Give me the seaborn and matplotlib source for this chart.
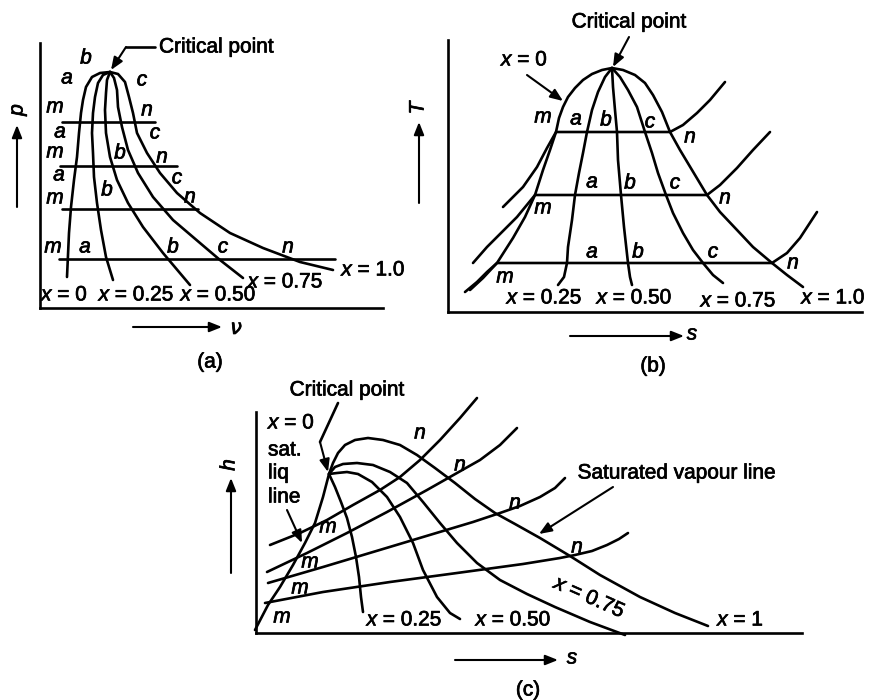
import matplotlib
matplotlib.use("Agg")
import pandas as pd
import matplotlib.pyplot as plt
import matplotlib.patheffects as pe
import seaborn as sns

# --- DATA (image pixel units) ---
# (a) p-v diagram: lines of constant dryness x
pv_x00 = [(110, 72), (100, 73), (92, 77), (86, 87), (83, 100), (81, 113), (79, 133),
          (77, 157), (74, 180), (71, 207), (69, 233), (67, 277)]
pv_x25 = [(110, 72), (103, 75), (98, 83), (95, 97), (93, 113), (92, 133), (93, 153),
          (94, 177), (97, 203), (101, 230), (106, 257), (113, 280)]
pv_x50 = [(110, 72), (107, 80), (106, 93), (105, 110), (106, 133), (110, 157), (117, 180),
          (128, 203), (143, 227), (163, 253), (190, 285)]
pv_x75 = [(110, 72), (114, 78), (117, 90), (118, 107), (122, 127), (128, 150), (138, 173),
          (153, 197), (173, 220), (200, 243), (220, 260), (243, 278)]
pv_x100 = [(110, 72), (118, 74), (125, 82), (129, 97), (133, 113), (137, 133), (147, 153),
           (160, 173), (177, 193), (200, 213), (230, 233), (263, 248), (300, 262), (333, 270)]
# isobars in (a): level and start / end of each line
pv_p_level = [122, 166, 209, 259]
pv_p_start = [62, 60, 62, 59]
pv_p_end = [155, 177, 198, 335]

# (b) T-s diagram
ts_x00 = [(612, 68), (602, 70), (592, 74), (583, 80), (575, 88), (568, 97), (563, 107),
          (559, 118), (556, 132), (550, 150), (543, 170), (535, 195), (525, 217),
          (513, 238), (497, 263), (483, 278), (470, 290)]
ts_x25 = [(612, 68), (605, 77), (598, 92), (592, 110), (587, 132), (583, 153), (579, 173),
          (575, 195), (572, 220), (568, 247), (567, 263), (564, 277), (558, 285)]
ts_x50 = [(612, 68), (613, 87), (615, 110), (617, 132), (618, 160), (621, 195), (624, 227),
          (628, 263), (630, 277), (632, 285)]
ts_x75 = [(612, 68), (620, 77), (628, 90), (637, 107), (645, 132), (652, 153), (658, 173),
          (666, 195), (673, 213), (683, 233), (693, 250), (703, 263), (713, 275), (723, 283)]
ts_x100 = [(612, 68), (623, 70), (635, 75), (645, 83), (653, 95), (662, 112), (670, 132),
           (680, 150), (692, 170), (707, 195), (720, 212), (737, 230), (753, 247),
           (772, 263), (787, 275), (803, 287)]
ts_p1 = [(503, 207), (523, 187), (537, 167), (547, 148), (556, 132), (670, 132),
         (683, 125), (697, 113), (710, 100), (725, 82)]
ts_p2 = [(473, 263), (487, 247), (503, 231), (517, 217), (535, 195), (707, 195),
         (720, 185), (737, 168), (753, 150), (770, 132)]
ts_p3 = [(465, 292), (477, 282), (487, 272), (497, 263), (772, 263), (787, 253),
         (800, 238), (817, 212)]

# (c) h-s diagram
hs_x00 = [(255, 630), (268, 605), (280, 587), (293, 565), (305, 543), (315, 523),
          (323, 497), (329, 474)]
hs_x25 = [(329, 474), (335, 487), (341, 502), (347, 518), (352, 537), (356, 557),
          (359, 577), (361, 597), (363, 612)]
hs_x50 = [(329, 474), (337, 473), (347, 472), (358, 474), (372, 482), (387, 497),
          (400, 517), (413, 543), (423, 570), (437, 597), (450, 613), (460, 619)]
hs_x75 = [(329, 474), (335, 467), (343, 464), (357, 463), (373, 465), (390, 472),
          (407, 483), (423, 502), (440, 523), (457, 543), (477, 563), (500, 580),
          (527, 594), (555, 607), (590, 622), (625, 635)]
hs_x100 = [(329, 474), (333, 463), (338, 453), (345, 445), (355, 440), (368, 438),
           (383, 440), (400, 445), (417, 455), (435, 468), (455, 483), (475, 499),
           (495, 513), (515, 524), (540, 538), (570, 556), (600, 575), (640, 597),
           (675, 613), (708, 626)]
hs_p1 = [(270, 545), (300, 533), (327, 520), (353, 505), (380, 490), (400, 477),
         (420, 460), (440, 440), (460, 418), (477, 398)]
hs_p2 = [(267, 572), (307, 553), (347, 533), (387, 512), (427, 490), (457, 473),
         (480, 460), (500, 445), (517, 428)]
hs_p3 = [(268, 583), (323, 567), (373, 552), (423, 537), (473, 522), (500, 513),
         (520, 506), (540, 497), (555, 488), (565, 478)]
hs_p4 = [(265, 603), (323, 592), (390, 582), (457, 573), (523, 564), (560, 558),
         (575, 555), (592, 551), (607, 545), (619, 539), (628, 533)]

# point labels (letter, x, y)
pv_marks = [('b', 86, 58), ('a', 67, 78), ('c', 142, 80), ('m', 55, 107), ('n', 147, 110),
            ('a', 60, 132), ('c', 155, 133), ('m', 55, 152), ('b', 120, 153), ('n', 162, 157),
            ('a', 59, 175), ('c', 177, 178), ('b', 107, 190), ('m', 55, 198), ('n', 190, 197),
            ('m', 53, 247), ('a', 85, 247), ('b', 173, 247), ('c', 223, 247), ('n', 288, 247)]
ts_marks = [('m', 543, 117), ('a', 576, 119), ('b', 606, 120), ('c', 650, 122), ('n', 690, 137),
            ('a', 592, 182), ('b', 630, 183), ('c', 675, 183), ('n', 725, 198), ('m', 543, 208),
            ('a', 592, 252), ('b', 638, 252), ('c', 713, 252), ('n', 793, 263), ('m', 505, 277)]
hs_marks = [('m', 328, 527), ('m', 310, 562), ('m', 300, 588), ('m', 282, 617),
            ('n', 420, 433), ('n', 460, 465), ('n', 515, 503), ('n', 577, 547)]

# --- FIGURE ---
sns.set_style("white")
plt.rcParams['font.family'] = ['Liberation Sans', 'DejaVu Sans']
plt.rcParams['mathtext.fontset'] = 'custom'
plt.rcParams['mathtext.it'] = 'Liberation Sans:italic'
plt.rcParams['mathtext.rm'] = 'Liberation Sans'

W, H = 872, 700
fig = plt.figure(figsize=(W / 100, H / 100), dpi=100)
LW = 1.9
FS = 15
INK = [pe.withStroke(linewidth=0.5, foreground='black')]


def panel(x0, y0, x1, y1):
    ax = fig.add_axes([x0 / W, 1 - y1 / H, (x1 - x0) / W, (y1 - y0) / H])
    ax.patch.set_alpha(0)
    return ax


def curve(ax, pts):
    d = pd.DataFrame(pts, columns=['s', 'v'])
    sns.lineplot(data=d, x='s', y='v', sort=False, estimator=None, color='black',
                 lw=LW, ax=ax, clip_on=False, solid_joinstyle='round', solid_capstyle='round')


def arrow(ax, start, tip, size=15):
    ax.annotate('', xy=tip, xytext=start, annotation_clip=False,
                arrowprops=dict(arrowstyle='-|>,head_length=0.5,head_width=0.2', color='black',
                                lw=1.5, mutation_scale=size, shrinkA=0, shrinkB=0))


def label(ax, x, y, s, ha='center', **kw):
    kw.setdefault('fontsize', FS)
    ax.text(x, y, s, ha=ha, va='center', color='black', clip_on=False,
            path_effects=INK, **kw)


def finish(ax, x0, y0, x1, y1):
    ax.set_xlim(x0, x1)
    ax.set_ylim(y1, y0)
    ax.set(xlabel='', ylabel='', xticks=[], yticks=[])
    for side in ['top', 'right']:
        ax.spines[side].set_visible(False)
    for side in ['left', 'bottom']:
        ax.spines[side].set_color('black')
        ax.spines[side].set_linewidth(LW)


# --- 1. (a) p-v ---
box_a = (40, 43, 383, 308)
ax_a = panel(*box_a)
for c in [pv_x00, pv_x25, pv_x50, pv_x75, pv_x100]:
    curve(ax_a, c)
for yv, v0, v1 in zip(pv_p_level, pv_p_start, pv_p_end):
    curve(ax_a, [(v0, yv), (v1, yv)])
for t, x, y in pv_marks:
    label(ax_a, x, y, t, style='italic')
label(ax_a, 65, 295, '$x$ = 0')
label(ax_a, 137, 295, '$x$ = 0.25')
label(ax_a, 219, 295, '$x$ = 0.50')
label(ax_a, 286, 282, '$x$ = 0.75')
label(ax_a, 374, 270, '$x$ = 1.0')
label(ax_a, 159, 47, 'Critical point', ha='left')
curve(ax_a, [(155, 47), (126, 47)])
arrow(ax_a, (126, 47), (111, 70))
arrow(ax_a, (17, 207), (17, 125))
label(ax_a, 17, 110, 'p', style='italic', rotation=90)
arrow(ax_a, (133, 327), (222, 327))
label(ax_a, 236, 328, 'ν', style='italic', family=['DejaVu Sans'])
label(ax_a, 210, 362, '(a)')
finish(ax_a, *box_a)

# --- 2. (b) T-s ---
box_b = (448, 40, 862, 312)
ax_b = panel(*box_b)
for c in [ts_x00, ts_x25, ts_x50, ts_x75, ts_x100, ts_p1, ts_p2, ts_p3]:
    curve(ax_b, c)
for t, x, y in ts_marks:
    label(ax_b, x, y, t, style='italic')
label(ax_b, 545, 298, '$x$ = 0.25')
label(ax_b, 635, 298, '$x$ = 0.50')
label(ax_b, 739, 301, '$x$ = 0.75')
label(ax_b, 834, 298, '$x$ = 1.0')
label(ax_b, 629, 22, 'Critical point')
arrow(ax_b, (629, 37), (613, 67))
label(ax_b, 525, 60, '$x$ = 0')
arrow(ax_b, (527, 75), (563, 101))
arrow(ax_b, (419, 203), (419, 122))
label(ax_b, 418, 108, 'T', style='italic', rotation=90)
arrow(ax_b, (570, 336), (684, 336))
label(ax_b, 692, 334, 's', style='italic')
label(ax_b, 653, 366, '(b)')
finish(ax_b, *box_b)

# --- 3. (c) h-s ---
box_c = (256, 412, 802, 633)
ax_c = panel(*box_c)
for c in [hs_x00, hs_x25, hs_x50, hs_x75, hs_x100, hs_p1, hs_p2, hs_p3, hs_p4]:
    curve(ax_c, c)
for t, x, y in hs_marks:
    label(ax_c, x, y, t, style='italic')
label(ax_c, 405, 620, '$x$ = 0.25')
label(ax_c, 514, 620, '$x$ = 0.50')
label(ax_c, 590, 598, '$x$ = 0.75', rotation=-24)
label(ax_c, 741, 620, '$x$ = 1')
label(ax_c, 347, 390, 'Critical point')
curve(ax_c, [(338, 403), (320, 442)])
arrow(ax_c, (320, 442), (328, 472))
label(ax_c, 268, 423, '$x$ = 0', ha='left')
for word, y in [('sat.', 450), ('liq', 473), ('line', 497)]:
    label(ax_c, 268, y, word, ha='left')
arrow(ax_c, (287, 510), (302, 543))
label(ax_c, 677, 473, 'Saturated vapour line')
arrow(ax_c, (613, 487), (539, 534))
arrow(ax_c, (231, 573), (231, 478))
label(ax_c, 229, 465, 'h', style='italic', rotation=90)
arrow(ax_c, (455, 660), (558, 660))
label(ax_c, 572, 658, 's', style='italic')
label(ax_c, 528, 690, '(c)')
finish(ax_c, *box_c)

fig.savefig('out.png', dpi=100)
